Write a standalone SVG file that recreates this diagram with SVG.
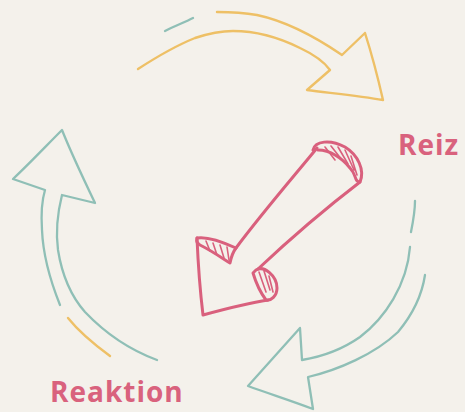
<svg xmlns="http://www.w3.org/2000/svg" width="465" height="412" viewBox="0 0 465 412">
<style>
.y{fill:none;stroke:#eec066;stroke-width:2.4;stroke-linecap:round;stroke-linejoin:round}
.t{fill:none;stroke:#8fbfb6;stroke-width:2.3;stroke-linecap:round;stroke-linejoin:round}
.p{fill:none;stroke:#d9607d;stroke-width:3;stroke-linecap:round;stroke-linejoin:round}
.h{fill:none;stroke:#d9607d;stroke-width:1.6;stroke-linecap:round}
.lbl{font-family:"Open Sans","Liberation Sans",sans-serif;font-weight:700;font-size:28px;fill:#d9627d}
</style>
<rect width="465" height="412" fill="#f4f1eb"/>
<g id="arrow-top">
<path class="y" d="M138,69 C155,58 175,46 195,38 C210,33 222,31 233,31 C255,31 280,38 300,48 C315,55 325,63 330,70 L307,90 C330,93 360,96 383,100 C378,78 372,55 365,33 L342,55 C320,40 290,22 257,15 C240,12 228,12 217,12"/>
<path class="t" d="M165,31 C175,26 185,22 193,18"/>
</g>
<g id="arrow-right">
<path class="t" d="M415,201 C415,212 413,222 411,232"/>
<path class="t" d="M410,247 C407,285 385,318 360,337 C340,351 320,357 302,360 L300,328 C283,347 265,367 248,386 C270,394 292,401 313,409 L308,377 C338,370 375,354 398,332 C413,314 422,295 425,275"/>
</g>
<g id="arrow-left">
<path class="t" d="M60,305 C50,280 43,255 42,230 C41,215 42,200 45,190 L13,179 C30,163 46,146 62,130 C72,155 84,180 95,203 L62,195 C57,215 56,235 58,250 C62,275 70,295 85,312 C105,333 130,350 157,360"/>
<path class="y" d="M68,318 C80,333 95,345 110,356"/>
</g>
<g id="arrow-center">
<path class="p" d="M317,148 C295,175 262,213 236,248"/>
<path class="p" d="M313,150 C315,141 330,139 345,147 C358,155 365,170 360,182 C354,182 357,175 350,168 C342,158 330,150 318,150"/>
<path class="h" d="M325,147 L335,160 M331,146 L342,160 M338,147 L348,164 M345,150 L354,170 M351,156 L357,175"/>
<path class="p" d="M360,182 C330,205 292,237 258,269"/>
<path class="p" d="M236,248 C225,243 208,236 197,238 C196,242 198,244 200,245 C212,251 222,258 230,263 C231,258 233,252 236,248"/>
<path class="h" d="M206,241 L210,251 M213,243 L217,255 M220,245 L224,258 M227,247 L229,260"/>
<path class="p" d="M197,238 C198,262 200,290 203,315 C225,309 248,303 268,300"/>
<path class="p" d="M256,270 C264,265 277,276 277,288 C277,296 271,301 266,300 C260,292 256,283 253,273 Z"/>
<path class="h" d="M259,272 L266,292 M264,271 L270,290 M269,276 L273,292"/>
</g>
<g id="labels">
<text class="lbl" x="398" y="155" letter-spacing="1">Reiz</text>
<text class="lbl" x="50" y="402" letter-spacing="1">Reaktion</text>
</g>
</svg>
